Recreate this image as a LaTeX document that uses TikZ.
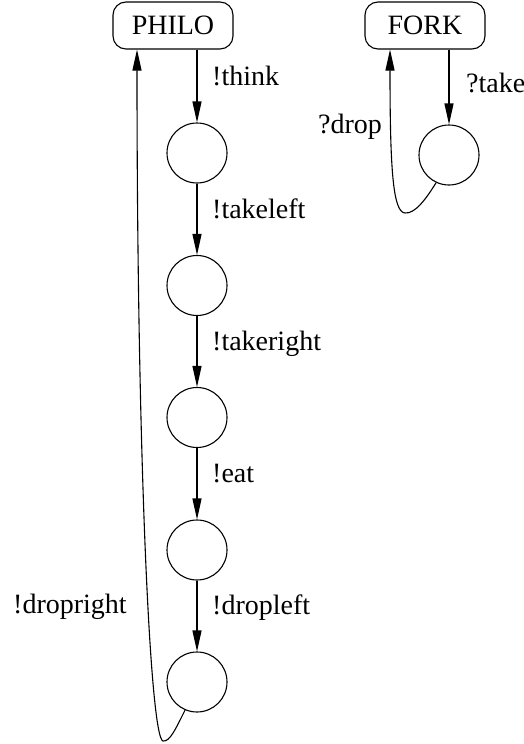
\documentclass[tikz,border=0pt]{standalone}
\usepackage{fontspec}
\setmainfont{Liberation Serif}
\newfontfamily\labelfont{Liberation Serif}
\usetikzlibrary{arrows.meta}
\tikzset{
  procbox/.style={draw, line width=1.1pt, rounded corners=13pt, minimum width=120pt,
    minimum height=47pt, inner sep=0pt},
  state/.style={draw, line width=1.1pt, circle, minimum size=60pt, inner sep=0pt},
  trans/.style={line width=1.1pt, -{Triangle[length=21pt,width=9pt]}},
  act/.style={anchor=base west, inner sep=0pt},
}
\begin{document}
\begin{tikzpicture}[x=1pt, y=-1pt, font=\labelfont\fontsize{28}{33}\selectfont]
\useasboundingbox (0,0) rectangle (524,744);

% philosopher process
\node[procbox] (philo) at (173,25.5) {PHILO};
\node[state] (s1) at (197,153) {};
\node[state] (s2) at (197,285.5) {};
\node[state] (s3) at (197,417.5) {};
\node[state] (s4) at (197,550) {};
\node[state] (s5) at (197,682) {};

\draw[trans] (philo.south -| s1) -- (s1.north);
\draw[trans] (s1) -- (s2);
\draw[trans] (s2) -- (s3);
\draw[trans] (s3) -- (s4);
\draw[trans] (s4) -- (s5);

\coordinate (philoin) at ([xshift=-36pt]philo.south);
\draw[trans] (s5.-113) .. controls (176,728) and (170,742) .. (163,741)
  .. controls (150,738) and (137,450) .. (philoin);

\node[act] (lthink) at (212,85) {!think};
\node[act] (ltl) at (212,218) {!takeleft};
\node[act] (ltr) at (212,350) {!takeright};
\node[act] (leat) at (212,482) {!eat};
\node[act] (ldl) at (212,614) {!dropleft};
\node[act] (ldr) at (13,613) {!dropright};

% fork process
\node[procbox] (fork) at (425,25.5) {FORK};
\node[state] (f1) at (449,155) {};

\draw[trans] (fork.south -| f1) -- (f1.north);
\coordinate (forkin) at ([xshift=-35pt]fork.south);
\draw[trans] (f1.-115) .. controls (426,199) and (415,214) .. (405,213)
  .. controls (393,212) and (390,170) .. (forkin);

\node[act] (ltake) at (466,92) {?take};
\node[act] (ldrop) at (318,133) {?drop};
\end{tikzpicture}
\end{document}
